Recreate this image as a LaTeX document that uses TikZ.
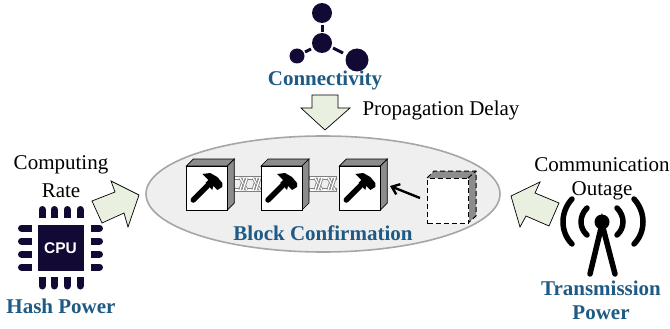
\documentclass[tikz,border=0pt]{standalone}
\usepackage{fontspec}
\setmainfont{Liberation Serif}
\newfontfamily\cpufont{Liberation Sans}
\usetikzlibrary{arrows.meta}
\definecolor{titleblue}{HTML}{1F5A85}
\definecolor{chipnavy}{HTML}{120A35}
\definecolor{arrowfill}{HTML}{E9F0DF}
\definecolor{ovalfill}{HTML}{EFEFEF}
\definecolor{ovalline}{HTML}{A6A6A6}
\definecolor{sidegray}{HTML}{8C8C8C}
\tikzset{
  x=1pt,y=-1pt,
  plainlabel/.style={font=\fontsize{21}{21}\selectfont,text=black,inner sep=0pt,anchor=center},
  titlelabel/.style={font=\fontsize{21}{21}\selectfont\bfseries,text=titleblue,inner sep=0pt,anchor=center},
  bigarrow/.style={draw=black,line width=0.7pt,fill=arrowfill,line join=miter},
  frontface/.style={minimum width=41pt,minimum height=44pt,inner sep=0pt,anchor=north west,fill=white},
  sideface/.style={draw=black,line width=0.7pt,fill=sidegray},
  chainbar/.style={draw=gray,fill=white,line width=0.9pt},
  chainline/.style={draw=gray,line width=0.8pt,double=white,double distance=1.3pt},
  pin/.style={line width=7pt,line cap=round,draw=chipnavy},
  pinroot/.style={line width=7pt,draw=chipnavy},
  wave/.style={line width=5.5pt,line cap=round,draw=black},
  bond/.style={line width=3pt,draw=chipnavy},
  atom/.style={circle,fill=chipnavy,inner sep=0pt},
}
\newcommand{\solidblock}[3]{%
  \draw[sideface] (#2,#3) -- ++(7,-7) -- ++(41,0) -- ++(-7,7) -- cycle;
  \draw[sideface] (#2+41,#3) -- ++(7,-7) -- ++(0,44) -- ++(-7,7) -- cycle;
  \node[frontface,draw=black,line width=0.8pt] (#1) at (#2,#3) {};
  \begin{scope}[shift={(#2,#3)}]
    \draw[line width=5.5pt,line cap=round,black] (7,34) -- (21,20);
    \fill[black] (16,8) -- (24,7) -- (31,11) -- (36,17) -- (36,21) -- (31,24) -- (27,20) -- (26,24) -- (19,17) -- (22,14) -- cycle;
  \end{scope}
}
\newcommand{\chainlinks}[1]{%
  \draw[chainbar] (#1,176.8) rectangle (#1+27,179.8);
  \draw[chainbar] (#1,188.2) rectangle (#1+27,191.2);
  \foreach \lx in {6,19}{
    \draw[chainline] (#1+\lx,190) -- (#1+\lx+4,178);
    \draw[chainline] (#1+\lx,178) -- (#1+\lx+7,190);
    \draw[chainline] (#1+\lx+3,190) -- (#1+\lx+7,178);
  }
}
\begin{document}
\begin{tikzpicture}
\useasboundingbox (0,0) rectangle (670,329);
\fill[white] (0,0) rectangle (670,329);

% central oval
\draw[ovalline,fill=ovalfill,line width=1.6pt] (323,194) ellipse [x radius=177,y radius=58];

% chain behind the blocks
\chainlinks{234}
\chainlinks{309}

% blocks
\solidblock{b1}{186.3}{166}
\solidblock{b2}{261}{166}
\solidblock{b3}{339.3}{166}

% pending block
\path[fill=sidegray] (427,178) -- (434,171) -- (476,171) -- (476,216) -- (468,223) -- (468,178) -- cycle;
\draw[black,dash pattern=on 5pt off 3pt,line width=1pt] (427,178) -- (434,171) -- (476,171) -- (476,216) -- (468,223);
\draw[black,dash pattern=on 5pt off 3pt,line width=1pt] (468,178) -- (476,171);
\node[frontface,draw=black,dash pattern=on 5pt off 3pt,line width=1pt,minimum height=45pt] (b4) at (427,178) {};

\coordinate (arrowtail) at (420,198);
\coordinate (arrowtip) at (390,186);
\draw[black,line width=2.4pt,-{Straight Barb[length=7pt,width=11pt]}] (arrowtail) -- (arrowtip);

% block arrows
\draw[bigarrow] (312,95) -- (338,95) -- (338,108) -- (350,108) -- (325,130) -- (301,108) -- (312,108) -- cycle;
\draw[bigarrow] (139,195) -- (111,181) -- (115,192) -- (92,201) -- (102,223) -- (124,213) -- (128,227) -- cycle;
\draw[bigarrow] (511,196) -- (540,182) -- (535,193) -- (559,203) -- (549,226) -- (526,216) -- (520,227) -- cycle;

% molecule
\node[atom,minimum size=20pt] (mtop) at (322,13) {};
\node[atom,minimum size=20pt] (mmid) at (322,43) {};
\node[atom,minimum size=15pt] (mleft) at (297,56) {};
\node[atom,minimum size=23pt] (mright) at (357,60) {};
\draw[bond] (322,25) -- (322,32);
\draw[bond] (305,52) -- (311,49);
\draw[bond] (333,48) -- (343,53);

% CPU
\foreach \px in {42,54,67,80}{
  \draw[pin] (\px,209.5) -- (\px,214.5);
  \draw[pinroot] (\px,212) -- (\px,218);
  \draw[pin] (\px,281) -- (\px,286);
  \draw[pinroot] (\px,277) -- (\px,283);
}
\foreach \py in {228,241,254,267}{
  \draw[pin] (21.5,\py) -- (28.5,\py);
  \draw[pinroot] (25,\py) -- (32,\py);
  \draw[pin] (94.5,\py) -- (99.5,\py);
  \draw[pinroot] (91,\py) -- (97,\py);
}
\node[fill=chipnavy,minimum size=46pt,inner sep=0pt,text=white,font=\cpufont\fontsize{15.5}{15.5}\selectfont\bfseries] (cpu) at (60.5,248) {CPU};

% antenna
\draw[wave] (587,208) .. controls (579,216) and (579,228) .. (587,235);
\draw[wave] (572,199) .. controls (560,212) and (560,232) .. (572,244);
\draw[wave] (617,208) .. controls (625,216) and (625,228) .. (617,235);
\draw[wave] (634,199) .. controls (646,212) and (646,232) .. (634,244);
\draw[wave,line cap=round] (590,274) -- (602,224) -- (615,274);
\node[circle,fill=black,minimum size=15pt,inner sep=0pt] (mast) at (602,222) {};

% labels
\node[plainlabel] (lprop) at (441,110) {Propagation Delay};
\node[plainlabel] (lcomp) at (61,165) {Computing};
\node[plainlabel] (lrate) at (61,191) {Rate};
\node[plainlabel] (lcomm) at (602,165) {Communication};
\node[plainlabel] (lout) at (602,191) {Outage};
\node[titlelabel] (tconn) at (325,80) {Connectivity};
\node[titlelabel] (tblock) at (323,233) {Block Confirmation};
\node[titlelabel] (thash) at (61,306) {Hash Power};
\node[titlelabel] (ttrans) at (601,288) {Transmission};
\node[titlelabel] (tpower) at (601,313) {Power};
\end{tikzpicture}
\end{document}
